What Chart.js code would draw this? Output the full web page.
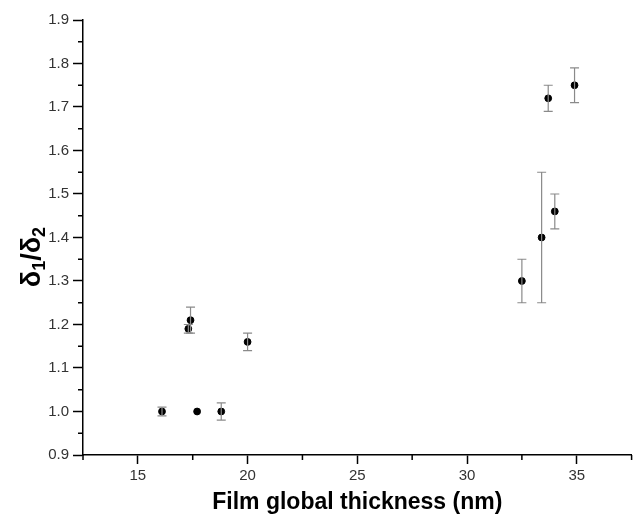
<!DOCTYPE html>
<html>
<head>
<meta charset="utf-8">
<script src="https://cdn.jsdelivr.net/npm/chart.js@4.4.1/dist/chart.umd.min.js"></script>
<style>
  body { margin: 0; background: #fff; }
  canvas { display: block; }
</style>
</head>
<body>
<canvas id="chart0" width="636" height="519"></canvas>
<script>
// film thickness (nm), delta1/delta2 and its error
var thickness = [16.1, 17.3, 17.4, 17.7, 18.8, 20.0, 32.5, 33.4, 33.7, 34.0, 34.9];
var ratio     = [1.00, 1.19, 1.21, 1.00, 1.00, 1.16, 1.30, 1.40, 1.72, 1.46, 1.75];
var ratioErr  = [0.01, 0.01, 0.03, 0.00, 0.02, 0.02, 0.05, 0.15, 0.03, 0.04, 0.04];

var xTicks = [15, 20, 25, 30, 35];
var xMinor = [12.5, 17.5, 22.5, 27.5, 32.5, 37.5];
var yTicks = [0.9, 1.0, 1.1, 1.2, 1.3, 1.4, 1.5, 1.6, 1.7, 1.8, 1.9];
var yMinor = [0.95, 1.05, 1.15, 1.25, 1.35, 1.45, 1.55, 1.65, 1.75, 1.85];

var xTitle = 'Film global thickness (nm)';
// y title pieces: text, subscript?
var yTitle = [['δ', false], ['1', true], ['/', false], ['δ', false], ['2', true]];

var FONT = "'Liberation Sans', Arial, sans-serif";

function htPoints() {
    var pts = [];
    for (let i = 0; i < thickness.length; i++) {
        pts.push({ x: thickness[i], y: ratio[i], err: ratioErr[i] });
    }
    return pts;
}

// vertical error bars with caps
var errorBars = {
    id: 'errorBars',
    afterDatasetsDraw: function(chart) {
        var ctx = chart.ctx;
        var xs = chart.scales.x, ys = chart.scales.y;
        ctx.save();
        ctx.strokeStyle = '#8a8a8a';
        ctx.lineWidth = 1.2;
        chart.data.datasets[0].data.forEach(function(p) {
            if (!p.err) return;
            var px = xs.getPixelForValue(p.x);
            var top = ys.getPixelForValue(p.y + p.err);
            var bot = ys.getPixelForValue(p.y - p.err);
            ctx.beginPath();
            ctx.moveTo(px, top); ctx.lineTo(px, bot);
            ctx.moveTo(px - 4.5, top); ctx.lineTo(px + 4.5, top);
            ctx.moveTo(px - 4.5, bot); ctx.lineTo(px + 4.5, bot);
            ctx.stroke();
        });
        ctx.restore();
    }
};

// short minor ticks outside the axes
var minorTicks = {
    id: 'minorTicks',
    afterDraw: function(chart) {
        var ctx = chart.ctx;
        var area = chart.chartArea;
        ctx.save();
        ctx.strokeStyle = '#000';
        ctx.lineWidth = 1.5;
        ctx.beginPath();
        xMinor.forEach(function(v) {
            var px = chart.scales.x.getPixelForValue(v);
            ctx.moveTo(px, area.bottom); ctx.lineTo(px, area.bottom + 5);
        });
        yMinor.forEach(function(v) {
            var py = chart.scales.y.getPixelForValue(v);
            ctx.moveTo(area.left, py); ctx.lineTo(area.left - 5, py);
        });
        ctx.stroke();
        ctx.restore();
    }
};

// rotated y title with real subscripts
var yTitlePlugin = {
    id: 'yTitle',
    afterDraw: function(chart) {
        var ctx = chart.ctx;
        var big = 'bold 27px ' + FONT, small = 'bold 18px ' + FONT;
        ctx.save();
        ctx.translate(31, 257);
        ctx.rotate(-Math.PI / 2);
        ctx.fillStyle = '#000';
        ctx.textBaseline = 'alphabetic';
        ctx.textAlign = 'left';
        var total = 0;
        yTitle.forEach(function(p) {
            ctx.font = p[1] ? small : big;
            total += ctx.measureText(p[0]).width;
        });
        var x = -total / 2;
        yTitle.forEach(function(p) {
            ctx.font = p[1] ? small : big;
            ctx.fillText(p[0], x, p[1] ? 14 : 9);
            x += ctx.measureText(p[0]).width;
        });
        ctx.restore();
    }
};

const ctx = document.getElementById('chart0').getContext('2d');
var chartId = new Chart(ctx, {
    type: 'scatter',
    data: {
        datasets: [{
            data: htPoints(),
            backgroundColor: '#000',
            borderColor: '#000',
            pointRadius: 3.4,
            pointHoverRadius: 3.4
        }]
    },
    options: {
        responsive: false,
        animation: false,
        layout: { padding: { top: 20, right: 1, left: 0, bottom: 0 } },
        plugins: {
            legend: { display: false },
            tooltip: { enabled: false }
        },
        scales: {
            x: {
                type: 'linear',
                min: 12.5,
                max: 37.5,
                afterBuildTicks: function(scale) {
                    scale.ticks = xTicks.map(function(v) { return { value: v }; });
                },
                afterFit: function(scale) { scale.height = 64; },
                grid: {
                    drawOnChartArea: false,
                    tickLength: 9,
                    tickColor: '#000',
                    tickWidth: 1.5
                },
                border: { color: '#000', width: 1.5 },
                ticks: {
                    color: '#333',
                    padding: 3,
                    font: { family: FONT, size: 15 }
                },
                title: {
                    display: true,
                    text: xTitle,
                    color: '#000',
                    padding: { top: 0, bottom: 3 },
                    font: { family: FONT, size: 23, weight: 'bold' }
                }
            },
            y: {
                type: 'linear',
                min: 0.9,
                max: 1.9,
                afterBuildTicks: function(scale) {
                    scale.ticks = yTicks.map(function(v) { return { value: v }; });
                },
                afterFit: function(scale) { scale.width = 83; },
                grid: {
                    drawOnChartArea: false,
                    tickLength: 10,
                    tickColor: '#000',
                    tickWidth: 1.5
                },
                border: { color: '#000', width: 1.5 },
                ticks: {
                    color: '#333',
                    padding: 4,
                    font: { family: FONT, size: 15 },
                    callback: function(v) { return Number(v).toFixed(1); }
                },
                title: { display: false }
            }
        }
    },
    plugins: [errorBars, minorTicks, yTitlePlugin]
});
</script>
</body>
</html>
